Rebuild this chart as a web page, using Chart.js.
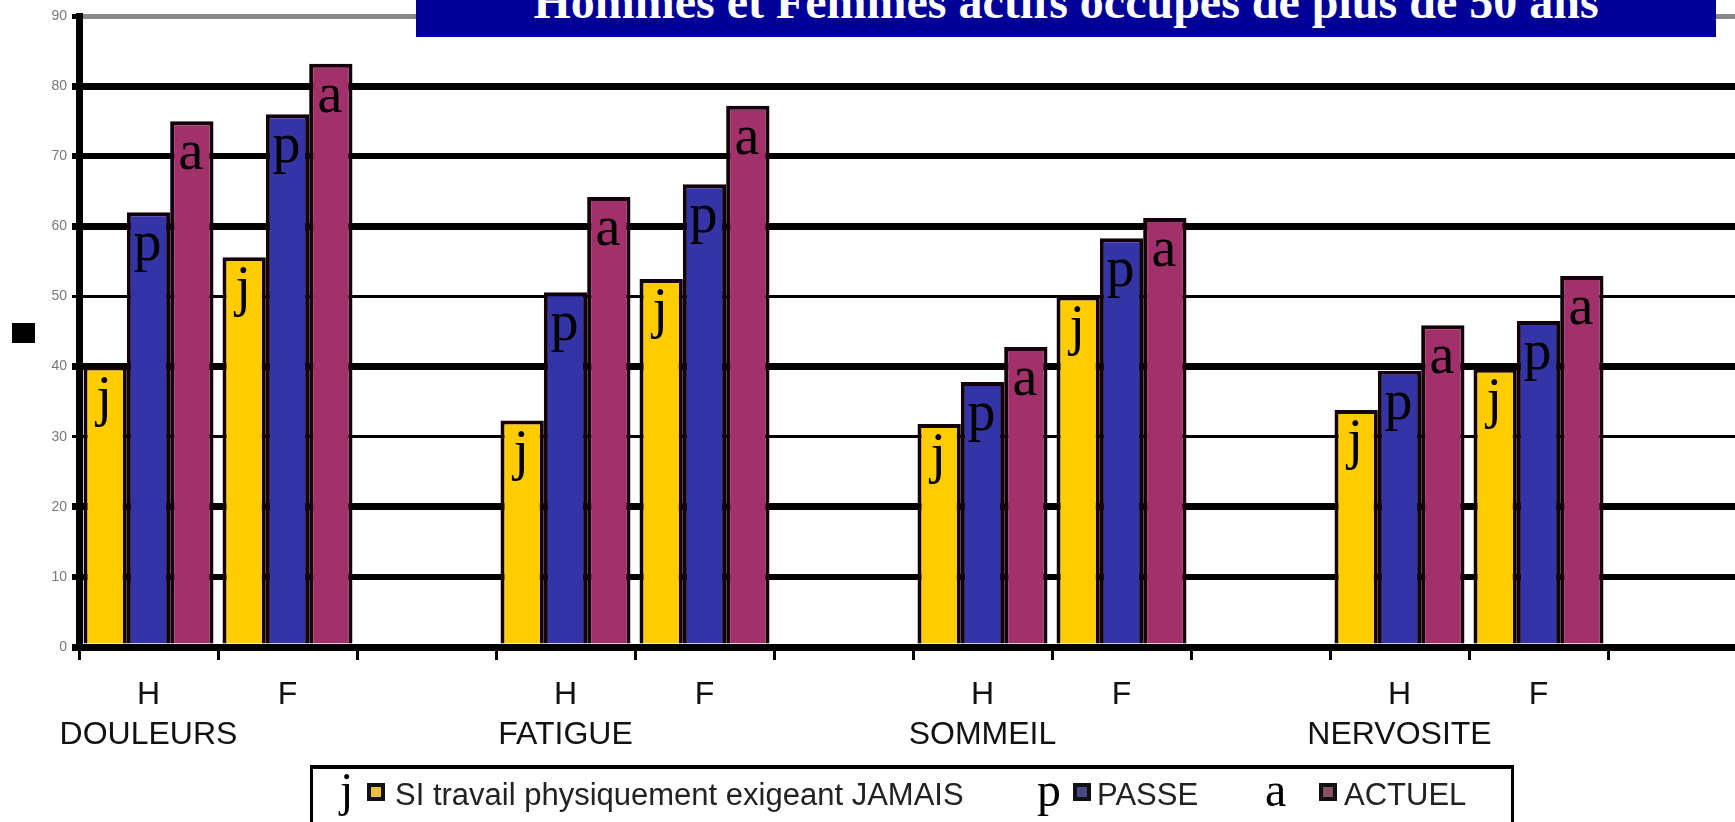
<!DOCTYPE html>
<html>
<head>
<meta charset="utf-8">
<script src="https://cdn.jsdelivr.net/npm/chart.js@4/dist/chart.umd.min.js"></script>
<style>
  html, body { margin: 0; padding: 0; background: #fff; overflow: hidden; }
  #wrap { position: relative; width: 1735px; height: 822px; overflow: hidden; }
  #chart { position: absolute; left: 0; top: 0; }
  #title {
    position: absolute; left: 416px; top: 0; width: 1300px; height: 37px;
    background: #000099; overflow: hidden; text-align: center;
  }
  #title span {
    position: relative; top: -17px; display: inline-block;
    font: bold 48px "Liberation Serif", "Times New Roman", serif; line-height: 37px;
    color: #fff; white-space: nowrap;
  }
  #ybox { position: absolute; left: 12px; top: 323px; width: 23px; height: 20px; background: #000; }
  #legend {
    position: absolute; left: 310px; top: 765px; width: 1198px; height: 80px;
    border-top: 4px solid #000; border-left: 3px solid #000; border-right: 3px solid #000;
    background: #fff;
  }
  #legend .l { position: absolute; top: -3px; font: 48px "Liberation Serif", serif; line-height: 48px; color: #000; }
  #legend .m { position: absolute; top: 14px; width: 10px; height: 10px; border: 4px solid #111; }
  #legend .t { position: absolute; top: 11px; font: 31px "Liberation Sans", Arial, sans-serif; line-height: 30px; color: #222; white-space: nowrap; }
</style>
</head>
<body>
<div id="wrap">
  <canvas id="chart" width="1747" height="822"></canvas>
  <div id="title"><span>Hommes et Femmes actifs occupés de plus de 50 ans</span></div>
  <div id="ybox"></div>
  <div id="legend"></div>
</div>
<script>
// groups and sub categories on the x axis
const groups = ["DOULEURS", "FATIGUE", "SOMMEIL", "NERVOSITE"];
const sexes = ["H", "F"];

// values, in order H, F for each group
const jamais = [40, 55.6, 32.3, 52.5, 31.8, 50, 33.8, 39.7];
const passe = [62, 76, 50.6, 66, 37.8, 58.3, 39.4, 46.5];
const actuel = [75, 83.2, 64.2, 77.2, 42.8, 61.2, 45.9, 52.9];

const seriesNames = ["SI travail physiquement exigeant JAMAIS", "PASSE", "ACTUEL"];
const seriesLetters = ["j", "p", "a"];
const seriesColors = ["#FFCC00", "#3434A6", "#A2306A"];
const markerColors = ["#E6C23A", "#4A4A86", "#8A5064"];
const yTicks = [0, 10, 20, 30, 40, 50, 60, 70, 80, 90];

// labels: H (with group name under it), F, then an empty spacer slot
const labels = [];
const spread = (arr) => {
  const out = [];
  groups.forEach((g, gi) => {
    sexes.forEach((s, si) => out.push(arr[gi * sexes.length + si]));
    out.push(null);
  });
  return out;
};
groups.forEach((g) => {
  labels.push(["H", g]);
  labels.push("F");
  labels.push("");
});

const gridWidth = { 0: 7, 10: 6, 20: 7, 30: 3, 40: 7, 50: 3, 60: 7, 70: 6, 80: 7, 90: 5 };

const letterPlugin = {
  id: "letters",
  afterDatasetsDraw(chart) {
    const ctx = chart.ctx;
    ctx.save();
    ctx.font = '56px "Liberation Serif", serif';
    ctx.fillStyle = "#000";
    ctx.textAlign = "center";
    ctx.textBaseline = "alphabetic";
    chart.data.datasets.forEach((ds, i) => {
      chart.getDatasetMeta(i).data.forEach((el, j) => {
        if (ds.data[j] == null) return;
        ctx.fillText(seriesLetters[i], el.x - 1, el.y + 48);
      });
    });
    ctx.restore();
  },
};

const datasets = [jamais, passe, actuel].map((vals, i) => ({
  label: seriesNames[i],
  data: spread(vals),
  backgroundColor: seriesColors[i],
  borderColor: "#12000a",
  borderWidth: 4,
  categoryPercentage: 0.935,
  barPercentage: 1.0,
}));

new Chart(document.getElementById("chart"), {
  type: "bar",
  data: { labels, datasets },
  plugins: [letterPlugin],
  options: {
    responsive: false,
    devicePixelRatio: 1,
    animation: false,
    layout: { padding: { top: 16, right: 0, left: 0, bottom: 0 } },
    plugins: { legend: { display: false }, tooltip: { enabled: false }, title: { display: false } },
    scales: {
      x: {
        afterFit: (scale) => { scale.height = 175; },
        border: { display: true, color: "#000", width: 7 },
        grid: { offset: true, drawOnChartArea: false, drawTicks: true, tickLength: 13, lineWidth: 3, color: "#000" },
        ticks: {
          autoSkip: false, maxRotation: 0, padding: 15, color: "#111",
          font: { family: '"Liberation Sans", Arial, sans-serif', size: 32, lineHeight: 1.25 },
        },
      },
      y: {
        min: 0, max: 90,
        afterFit: (scale) => { scale.width = 79; },
        afterBuildTicks: (scale) => { scale.ticks = yTicks.map((v) => ({ value: v })); },
        border: { display: true, color: "#000", width: 7 },
        grid: {
          drawTicks: true, tickLength: 7,
          color: (c) => (c.tick && c.tick.value === 90 ? "#888" : "#000"),
          tickColor: "#000",
          lineWidth: (c) => (c.tick ? gridWidth[c.tick.value] || 5 : 5),
        },
        ticks: { padding: 5, color: "#777", font: { family: '"Liberation Sans", Arial, sans-serif', size: 14 } },
      },
    },
  },
});

// legend
const legend = document.getElementById("legend");
const legendPos = [
  { l: 27, m: 54, t: 82 },
  { l: 724, m: 760, t: 784 },
  { l: 952, m: 1006, t: 1031 },
];
legendPos.forEach((p, i) => {
  const l = document.createElement("span");
  l.className = "l"; l.style.left = p.l + "px"; l.textContent = seriesLetters[i];
  const m = document.createElement("span");
  m.className = "m"; m.style.left = p.m + "px"; m.style.background = markerColors[i];
  const t = document.createElement("span");
  t.className = "t"; t.style.left = p.t + "px"; t.textContent = seriesNames[i];
  legend.append(l, m, t);
});
</script>
</body>
</html>
